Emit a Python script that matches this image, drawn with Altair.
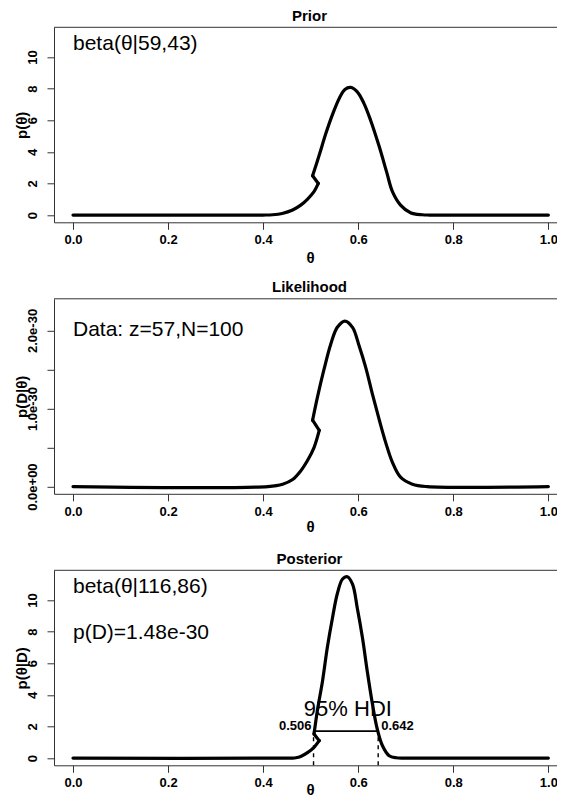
import altair as alt
import pandas as pd

# ---------------- data ----------------
PRIOR_THETA = [0.0, 0.40, 0.42, 0.44, 0.462, 0.479, 0.493, 0.507, 0.516, 0.504, 0.518, 0.532,
               0.546, 0.56, 0.572, 0.584, 0.598, 0.612, 0.626, 0.644, 0.66, 0.672, 0.689,
               0.71, 0.735, 0.75, 1.0]
PRIOR_DENS = [0, 0, 0.02, 0.1, 0.32, 0.63, 1.0, 1.48, 2.0, 2.49, 3.8, 5.17,
              6.37, 7.38, 7.95, 8.08, 7.8, 7.07, 6.0, 4.35, 2.7, 1.48, 0.63,
              0.15, 0.02, 0, 0]

LIK_THETA = [0.0, 0.41, 0.441, 0.462, 0.479, 0.493, 0.507, 0.518, 0.504, 0.514, 0.528,
             0.542, 0.556, 0.572, 0.588, 0.602, 0.616, 0.63, 0.644, 0.658, 0.672, 0.689,
             0.714, 0.745, 1.0]
LIK_E30 = [0, 0, 0.03, 0.09, 0.2, 0.33, 0.5, 0.72, 0.85, 1.14, 1.5,
           1.82, 2.04, 2.12, 2.04, 1.8, 1.52, 1.18, 0.86, 0.56, 0.31, 0.12,
           0.03, 0, 0]

POST_THETA = [0.0, 0.46, 0.469, 0.479, 0.494, 0.507, 0.518, 0.507, 0.514, 0.525, 0.535,
              0.546, 0.556, 0.567, 0.577, 0.588, 0.598, 0.609, 0.619, 0.63, 0.64, 0.651,
              0.665, 0.68, 0.70, 1.0]
POST_DENS = [0, 0, 0.02, 0.1, 0.36, 0.68, 1.1, 1.52, 3.0, 4.9, 7.0,
             8.9, 10.4, 11.33, 11.47, 11.0, 9.5, 7.6, 5.5, 3.4, 1.84, 0.78,
             0.15, 0.02, 0, 0]

X_TICKS = [0.0, 0.2, 0.4, 0.6, 0.8, 1.0]
P_TICKS = [0, 2, 4, 6, 8, 10]
LIK_TICKS = [0, 0.5, 1.0, 1.5, 2.0]
LIK_LABELS = {0: "0.0e+00", 1: "1.0e-30", 2: "2.0e-30"}

HDI_LOW, HDI_HIGH, HDI_HEIGHT = 0.506, 0.642, 1.7
HDI_TEXT = "95% HDI"

PANEL_TITLES = ["Prior", "Likelihood", "Posterior"]
Y_TITLES = ["p(θ)", "p(D|θ)", "p(θ|D)"]
X_TITLE = "θ"
NOTES = ["beta(θ|59,43)", "Data: z=57,N=100", "beta(θ|116,86)", "p(D)=1.48e-30"]

# ---------------- layout / style ----------------
FONT = "Liberation Sans"
W, H = 511, 195
SPACING = 76.5
XDOM = [-0.04, 1.035]
PDOM = [-0.458, 11.882]
LDOM = [-0.0925, 2.405]
AXC = "#333333"
PAD_L, PAD_T = 46, 19.3
SVG_W, SVG_H = 549, 790


def curve_df(theta, dens):
    k = next(i for i in range(1, len(theta)) if theta[i] < theta[i - 1])
    parts = [list(range(0, k)), [k - 1, k], list(range(k, len(theta)))]
    rows = []
    for s, idxs in enumerate(parts):
        for j, i in enumerate(idxs):
            rows.append({"theta": theta[i], "dens": dens[i], "seg": s, "ord": j})
    return pd.DataFrame(rows)


def enc_x(title_y):
    return alt.X(
        "theta:Q",
        scale=alt.Scale(domain=XDOM, nice=False, zero=False),
        axis=alt.Axis(values=X_TICKS, format=".1f", tickSize=7, labelPadding=10.5,
                      labelBaseline="middle", labelFlush=False, labelOverlap=False,
                      titleX=256, titleY=title_y, titleBaseline="middle",
                      titleAlign="center", grid=False),
        title=X_TITLE,
    )


def enc_y(dom, ticks, title, label_expr=None):
    ax = dict(values=ticks, tickSize=7, labelAngle=270, labelAlign="center",
              labelBaseline="alphabetic", labelPadding=11, labelFlush=False,
              labelOverlap=False, titleX=-33, titleY=H / 2, titleAngle=270,
              titleAlign="center", titleBaseline="middle", grid=False)
    if label_expr:
        ax["labelExpr"] = label_expr
    return alt.Y("dens:Q", scale=alt.Scale(domain=dom, nice=False, zero=False),
                 axis=alt.Axis(**ax), title=title)


def panel(df, ydom, yticks, ytitle, ptitle, notes, label_expr=None, extra=(), title_y=34):
    x = enc_x(title_y)
    y = enc_y(ydom, yticks, ytitle, label_expr)
    line = alt.Chart(df).mark_line(
        color="black", strokeWidth=3.2, interpolate="catmull-rom",
        strokeCap="round", strokeJoin="round"
    ).encode(x=x, y=y, detail="seg:N", order="ord:Q")
    # top edge of the plot frame (the frame's right side lies beyond the picture)
    top = alt.Chart(pd.DataFrame({"theta": [XDOM[0]], "theta2": [XDOM[1]],
                                  "dens": [ydom[1]]})).mark_rule(
        color=AXC, strokeWidth=1).encode(x=x, x2="theta2:Q", y=y)
    text = alt.Chart(pd.DataFrame(notes)).mark_text(
        align="left", baseline="middle", font=FONT, fontSize=21, color="black"
    ).encode(x=x, y=y, text="label:N")
    ttl = alt.Chart(pd.DataFrame({"label": [ptitle]})).mark_text(
        align="center", baseline="middle", font=FONT, fontSize=15, fontWeight="bold",
        color="black"
    ).encode(x=alt.value(W / 2), y=alt.value(-11.5), text="label:N")
    layers = [line, top, text, ttl] + [e(x, y) for e in extra]
    return alt.layer(*layers).properties(width=W, height=H)


def hdi_line(x, y):
    return alt.Chart(pd.DataFrame({"theta": [HDI_LOW], "theta2": [HDI_HIGH],
                                   "dens": [HDI_HEIGHT]})).mark_rule(
        color="black", strokeWidth=1.8).encode(x=x, x2="theta2:Q", y=y)


def hdi_dash(x, y):
    return alt.Chart(pd.DataFrame({"theta": [HDI_LOW, HDI_HIGH], "dens": [PDOM[0]] * 2,
                                   "dens2": [HDI_HEIGHT] * 2})).mark_rule(
        color="black", strokeWidth=1.4, strokeDash=[4, 4]).encode(x=x, y=y, y2="dens2:Q")


def hdi_title(x, y):
    return alt.Chart(pd.DataFrame({"theta": [(HDI_LOW + HDI_HIGH) / 2], "dens": [3.1],
                                   "label": [HDI_TEXT]})).mark_text(
        align="center", baseline="middle", dx=2, font=FONT, fontSize=22, color="black"
    ).encode(x=x, y=y, text="label:N")


def hdi_low_lab(x, y):
    return alt.Chart(pd.DataFrame({"theta": [HDI_LOW], "dens": [2.0],
                                   "label": [f"{HDI_LOW:.3f}"]})).mark_text(
        align="right", baseline="middle", dx=-2, font=FONT, fontSize=13,
        fontWeight="bold", color="black").encode(x=x, y=y, text="label:N")


def hdi_high_lab(x, y):
    return alt.Chart(pd.DataFrame({"theta": [HDI_HIGH], "dens": [2.0],
                                   "label": [f"{HDI_HIGH:.3f}"]})).mark_text(
        align="left", baseline="middle", dx=3, font=FONT, fontSize=13,
        fontWeight="bold", color="black").encode(x=x, y=y, text="label:N")


lik_expr = ("datum.value == 0 ? '%s' : (datum.value == 1 ? '%s' : "
            "(datum.value == 2 ? '%s' : ''))" % (LIK_LABELS[0], LIK_LABELS[1], LIK_LABELS[2]))

p1 = panel(curve_df(PRIOR_THETA, PRIOR_DENS), PDOM, P_TICKS, Y_TITLES[0], PANEL_TITLES[0],
           [{"theta": 0.0, "dens": 10.85, "label": NOTES[0]}], title_y=35)
p2 = panel(curve_df(LIK_THETA, LIK_E30), LDOM, LIK_TICKS, Y_TITLES[1], PANEL_TITLES[1],
           [{"theta": 0.0, "dens": 2.01, "label": NOTES[1]}], label_expr=lik_expr, title_y=33)
p3 = panel(curve_df(POST_THETA, POST_DENS), PDOM, P_TICKS, Y_TITLES[2], PANEL_TITLES[2],
           [{"theta": 0.0, "dens": 10.8, "label": NOTES[2]},
            {"theta": 0.0, "dens": 7.9, "label": NOTES[3]}],
           extra=(hdi_dash, hdi_line, hdi_title, hdi_low_lab, hdi_high_lab), title_y=24)

# With autosize "none" the concat view reports the panel width but no height,
# so the padding supplies the rest of the page size.
chart = alt.vconcat(p1, p2, p3, spacing=SPACING, bounds="flush").properties(
    autosize=alt.AutoSizeParams(type="none"),
    padding={"left": PAD_L, "top": PAD_T, "right": SVG_W - PAD_L - W,
             "bottom": SVG_H - PAD_T},
).configure_view(stroke=None).configure_axis(
    domainColor=AXC, tickColor=AXC, domainWidth=1, tickWidth=1,
    labelFont=FONT, titleFont=FONT, labelFontSize=13, labelFontWeight="bold",
    titleFontSize=15, titleFontWeight="bold", labelColor="black", titleColor="black")

chart.save("out.html", embed_options={"renderer": "svg", "actions": False})
